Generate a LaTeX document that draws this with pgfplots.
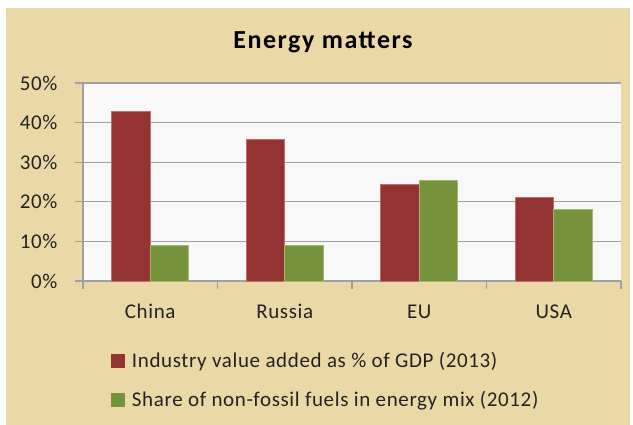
\documentclass[border=0pt]{standalone}
\usepackage{fontspec}
\setmainfont{Carlito}[LetterSpace=3]
\newfontfamily\titlefont{Carlito}[LetterSpace=6]
\usepackage{pgfplots}
\pgfplotsset{compat=1.18}
\definecolor{bg}{RGB}{234,217,166}
\definecolor{plotbg}{RGB}{248,248,248}
\definecolor{gridc}{RGB}{160,160,160}
\definecolor{redbar}{RGB}{147,52,50}
\definecolor{rededge}{RGB}{190,110,108}
\definecolor{greenbar}{RGB}{118,146,58}
\definecolor{greenedge}{RGB}{160,185,110}
\definecolor{txt}{RGB}{35,35,35}
\begin{document}
\begin{tikzpicture}
\path[use as bounding box] (-83bp,-144bp) rectangle (550bp,281bp);
\fill[bg] (-77bp,-144bp) rectangle (547bp,273bp);
\begin{axis}[
  at={(0,0)}, anchor=south west, scale only axis,
  width=538bp, height=198bp,
  font=\fontsize{21bp}{25bp}\selectfont,
  ybar=0pt, bar width=38.5bp,
  xmin=-0.5, xmax=3.5, ymin=0, ymax=50,
  axis x line*=bottom, axis y line*=left,
  axis line style={gridc, line width=1.2bp},
  axis background/.style={fill=plotbg},
  ymajorgrids, major grid style={gridc, line width=1.2bp},
  tick style={gridc, line width=1.2bp},
  tick align=outside, major tick length=8bp,
  xtick={-0.5,0.5,1.5,2.5,3.5}, xticklabels={},
  extra x ticks={0,1,2,3},
  extra x tick labels={China,Russia,EU,USA},
  extra x tick style={tick style={draw=none}},
  xticklabel style={anchor=base, text=txt, yshift=-29bp},
  ytick={0,10,20,30,40,50},
  yticklabels={0\%,10\%,20\%,30\%,40\%,50\%},
  yticklabel style={anchor=east, text=txt, xshift=-14bp},
  title={\titlefont\bfseries\fontsize{26bp}{30bp}\selectfont Energy matters},
  title style={at={(rel axis cs:0.446,1)}, anchor=base, yshift=29bp},
  legend style={draw=none, fill=none, at={(rel axis cs:0.052,-0.36)},
    anchor=north west, legend cell align=left, text=txt,
    inner sep=0pt, row sep=22bp, column sep=7bp,
    nodes={inner sep=0pt}},
]
\addplot[fill=redbar, draw=rededge, line width=0.8bp,
  legend image code/.code={\fill[redbar] (0bp,-6.5bp) rectangle (13bp,6.5bp);}]
  coordinates {(0,42.8) (1,35.8) (2,24.3) (3,21.2)};
\addplot[fill=greenbar, draw=greenedge, line width=0.8bp,
  legend image code/.code={\fill[greenbar] (0bp,-6.5bp) rectangle (13bp,6.5bp);}]
  coordinates {(0,9.0) (1,9.0) (2,25.5) (3,18.0)};
\legend{Industry value added as \% of GDP (2013),Share of non-fossil fuels in energy mix (2012)}
\end{axis}
\end{tikzpicture}
\end{document}
